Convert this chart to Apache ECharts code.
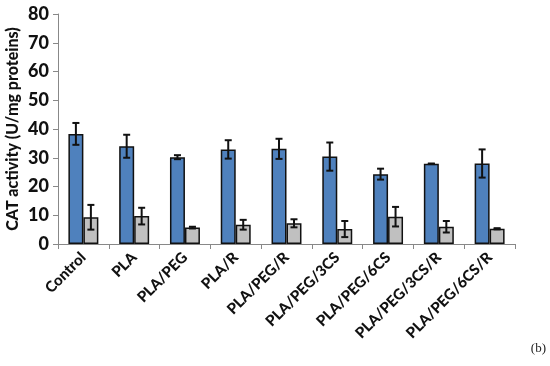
<!DOCTYPE html>
<html><head><meta charset="utf-8">
<script src="https://cdn.jsdelivr.net/npm/echarts@6/dist/echarts.min.js"></script>
<style>html,body{margin:0;padding:0;background:#fff}#c{width:550px;height:366px}</style>
</head><body><div id="c"></div>
<script>
var categories = ['Control','PLA','PLA/PEG','PLA/R','PLA/PEG/R','PLA/PEG/3CS','PLA/PEG/6CS','PLA/PEG/3CS/R','PLA/PEG/6CS/R'];
var blueValues = [38.3, 34.0, 30.2, 32.9, 33.1, 30.4, 24.3, 27.9, 28.0];
var blueErrors = [3.8, 4.0, 0.7, 3.2, 3.5, 4.9, 1.9, 0.1, 4.9];
var grayValues = [9.3, 9.7, 5.7, 6.7, 7.2, 5.2, 9.5, 6.0, 5.3];
var grayErrors = [4.3, 2.9, 0.3, 1.7, 1.4, 2.8, 3.4, 2.0, 0.2];
var yTicks = [0, 10, 20, 30, 40, 50, 60, 70, 80];

var gapFrac = 0.41;
function errSeries(vals, errs, side) {
  return {
    type: 'custom', z: 10,
    data: vals.map(function (v, i) { return [i, v, errs[i]]; }),
    renderItem: function (params, api) {
      var i = api.value(0), v = api.value(1), e = api.value(2);
      var band = api.size([1, 0])[0];
      var bw = band * (1 - gapFrac) / 2;
      var top = api.coord([i, v + e]);
      var bot = api.coord([i, v - e]);
      var x = top[0] + side * bw / 2;
      var cap = 3.5;
      var st = { stroke: '#111', lineWidth: 2 };
      return { type: 'group', children: [
        { type: 'line', shape: { x1: x, y1: top[1], x2: x, y2: bot[1] }, style: st },
        { type: 'line', shape: { x1: x - cap, y1: top[1], x2: x + cap, y2: top[1] }, style: st },
        { type: 'line', shape: { x1: x - cap, y1: bot[1], x2: x + cap, y2: bot[1] }, style: st }
      ]};
    }
  };
}

var chart = echarts.init(document.getElementById('c'));
chart.setOption({
  animation: false,
  textStyle: { fontFamily: 'Lato' },
  grid: { left: 58, right: 35, top: 14, bottom: 122, containLabel: false, outerBoundsMode: 'none' },
  graphic: [{ type: 'text', right: 4, top: 342, style: { text: '(b)', font: '13px "Liberation Serif"', fill: '#222' } }],
  xAxis: {
    type: 'category', data: categories,
    axisLine: { lineStyle: { color: '#888', width: 1 } },
    axisTick: { show: true, length: 5, lineStyle: { color: '#888' } },
    axisLabel: { rotate: 45, interval: 0, margin: 11, fontSize: 15, fontWeight: 900, color: '#111', fontFamily: 'Lato' }
  },
  yAxis: {
    type: 'value', min: 0, max: 80, interval: 10,
    name: 'CAT activity (U/mg proteins)', nameLocation: 'middle', nameGap: 37, nameMoveOverlap: false,
    nameTextStyle: { fontSize: 16, fontWeight: 900, color: '#111', fontFamily: 'Lato' },
    axisLine: { show: true, lineStyle: { color: '#888', width: 1 } },
    axisTick: { show: true, length: 5, lineStyle: { color: '#888' } },
    splitLine: { show: false },
    axisLabel: { fontSize: 18, fontWeight: 900, color: '#111', margin: 9, fontFamily: 'Lato',
      formatter: function (v) { return yTicks.indexOf(v) >= 0 ? String(v) : ''; } }
  },
  series: [
    { type: 'bar', data: blueValues, barGap: '0%', barCategoryGap: (gapFrac * 100) + '%',
      itemStyle: { color: '#4f81bd', borderColor: '#111', borderWidth: 1.5 } },
    { type: 'bar', data: grayValues,
      itemStyle: { color: '#c0c0c0', borderColor: '#111', borderWidth: 1.5 } },
    errSeries(blueValues, blueErrors, -1),
    errSeries(grayValues, grayErrors, 1)
  ]
});
</script></body></html>
